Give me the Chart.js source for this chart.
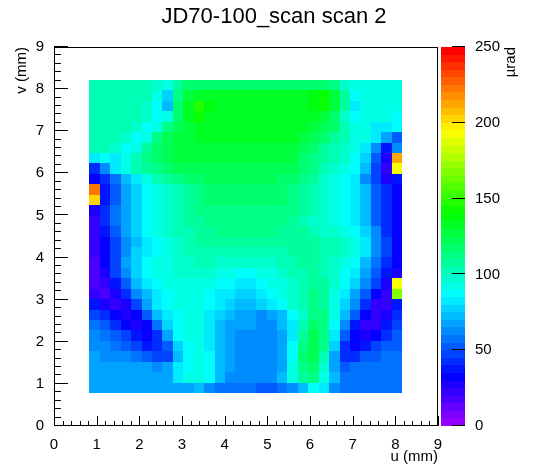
<!DOCTYPE html>
<html lang="en">
<head>
  <meta charset="UTF-8" />
  <title>JD70-100_scan scan 2</title>
  <script src="https://cdn.jsdelivr.net/npm/chart.js"></script>
  <style>
    body {
      margin: 0;
      background: #fff;
    }
    #wrap {
      width: 548px;
      height: 474px;
    }
  </style>
</head>
<body>
<div id="wrap"><canvas id="scan"></canvas></div>

<script>
  // Chart text
  const chartTitle = 'JD70-100_scan scan 2';
  const uTitle = 'u (mm)';
  const vTitle = 'v (mm)';
  const zTitle = 'µrad';

  // Axis ranges and tick steps
  const uAxis = [0, 9];
  const vAxis = [0, 9];
  const zAxis = [0, 250];
  const zStep = 50;
  const zBand = 5;          // 50 colour contours over 0..250
  const minorPerMajor = 5;

  // Scanned area (mm)
  const uRange = [0.83, 8.16];
  const vRange = [0.78, 8.22];

  // Deflection (µrad) per cell, one row per v strip, top (v = 8.2) to bottom (v = 0.8)
  const row01 = [100,100,100,100,100,100,97,90,105,116,118,118,118,118,118,118,118,118,118,118,118,118,118,110,95,92,93,93,93,93];
  const row02 = [104,104,104,104,104,102,92,75,110,128,134,131,130,130,130,130,130,130,130,131,133,136,140,128,108,85,90,92,93,93];
  const row03 = [104,104,104,104,104,98,87,73,115,134,146,138,131,130,130,130,130,130,130,131,133,137,140,128,108,82,90,92,93,93];
  const row04 = [104,104,104,104,103,97,87,90,118,132,140,134,130,130,130,130,130,130,130,130,131,132,128,115,97,87,90,92,90,88];
  const row05 = [104,104,104,104,97,87,92,112,122,128,131,130,130,130,130,130,130,130,130,130,130,129,124,115,102,94,90,84,80,88];
  const row06 = [104,104,104,97,87,94,112,122,127,129,130,130,130,130,130,130,130,130,130,130,129,124,116,108,100,94,90,82,65,50];
  const row07 = [100,102,97,87,92,108,118,124,127,128,128,128,128,128,128,128,128,128,128,127,123,117,108,102,97,90,80,60,35,60];
  const row08 = [80,87,84,90,103,112,118,122,125,126,126,126,126,126,126,126,126,126,126,125,119,113,105,100,95,87,76,52,25,210];
  const row09 = [42,62,80,90,100,108,114,118,122,123,123,123,123,123,123,123,123,123,123,120,115,110,103,98,93,85,72,48,24,190];
  const row10 = [32,40,58,72,84,93,100,107,112,116,118,120,120,120,120,120,120,120,118,116,111,105,98,93,89,80,64,47,28,38];
  const row11 = [220,38,54,66,77,85,91,97,103,108,112,116,118,118,118,118,118,118,116,113,108,102,97,94,89,82,70,54,40,32];
  const row12 = [200,36,54,66,77,85,91,97,103,108,112,115,116,116,116,116,116,116,115,112,106,100,96,94,89,82,70,54,40,32];
  const row13 = [26,40,55,68,78,85,91,96,102,107,110,113,114,114,114,114,114,114,113,110,105,100,96,94,89,82,70,54,40,32];
  const row14 = [24,40,55,68,78,85,91,96,101,105,108,111,112,112,112,112,112,112,111,108,103,99,95,93,89,82,70,54,40,32];
  const row15 = [22,38,53,66,77,85,91,95,100,103,106,109,110,110,110,110,110,110,109,107,105,102,99,96,92,86,76,60,44,33];
  const row16 = [22,34,49,62,73,81,88,93,98,102,105,107,108,108,107,106,106,106,106,106,106,106,104,101,96,90,80,64,46,34];
  const row17 = [20,34,49,63,75,83,89,93,98,101,103,104,104,103,102,102,102,103,104,105,106,106,104,100,95,90,80,64,46,33];
  const row18 = [18,32,49,65,77,85,90,93,96,99,100,100,99,97,96,96,97,99,101,103,105,106,104,99,92,86,74,57,41,31];
  const row19 = [18,28,45,63,77,85,90,93,95,96,96,95,93,91,89,89,91,94,97,100,103,106,104,97,88,80,68,52,35,28];
  const row20 = [18,24,38,54,70,82,89,92,94,94,93,90,88,86,84,84,87,90,94,98,103,108,106,95,85,76,62,45,28,190];
  const row21 = [22,18,27,42,60,73,84,89,91,93,90,87,83,80,77,76,80,85,90,97,104,110,107,93,80,68,52,33,20,165];
  const row22 = [38,28,22,28,48,67,81,88,91,93,90,85,80,75,72,72,76,82,88,96,104,112,108,91,75,60,42,24,20,35];
  const row23 = [48,42,32,26,33,52,72,82,89,92,90,83,75,70,67,66,64,66,72,85,98,114,110,90,70,50,30,20,26,42];
  const row24 = [56,52,44,34,28,33,57,76,86,90,90,82,72,68,65,65,62,63,70,84,100,117,112,88,62,38,22,22,35,47];
  const row25 = [60,56,52,45,36,33,43,66,85,90,90,82,70,66,64,64,60,60,68,83,105,120,112,82,50,30,26,33,42,50];
  const row26 = [62,60,56,52,45,38,41,52,76,88,90,84,70,65,63,63,60,60,67,86,110,124,110,75,40,32,38,45,50,52];
  const row27 = [65,62,62,62,56,50,47,48,71,88,90,85,70,65,62,63,60,60,67,88,115,122,102,66,42,44,50,54,56,56];
  const row28 = [65,65,65,65,65,65,61,66,80,88,90,85,70,65,62,63,60,60,68,90,113,117,96,66,53,55,57,58,58,58];
  const row29 = [68,68,68,68,68,68,68,68,82,90,92,85,70,63,60,62,60,62,72,92,108,110,92,72,58,55,55,55,55,55];
  const row30 = [65,65,65,65,65,65,65,65,65,68,70,60,55,55,55,55,52,52,55,60,72,85,82,62,55,55,55,55,55,55];

  const rows = [row01,row02,row03,row04,row05,row06,row07,row08,row09,row10,
                row11,row12,row13,row14,row15,row16,row17,row18,row19,row20,
                row21,row22,row23,row24,row25,row26,row27,row28,row29,row30];

  const nCols = row01.length;
  const du = (uRange[1] - uRange[0]) / nCols;
  const dv = (vRange[1] - vRange[0]) / rows.length;

  // ROOT "pretty" palette: 50 hues from violet to red
  function paletteColor(k) {
    k = Math.max(0, Math.min(zAxis[1] / zBand - 1, k));
    const hue = 280 - (k + 1) * 5.6;
    return `hsl(${hue}, 100%, 50%)`;
  }

  function colorFor(val) {
    return paletteColor(Math.floor(val / zBand));
  }

  // cell edges, shared by neighbouring cells
  const uEdge = i => uRange[0] + i * du;
  const vEdge = j => vRange[1] - j * dv;

  // one point per cell, at the cell centre
  const cells = [];
  rows.forEach((r, j) => {
    r.forEach((val, i) => {
      cells.push({ x: uEdge(i + 0.5), y: vEdge(j + 0.5), v: val, i, j });
    });
  });

  // Fill each cell through the x/y scales
  const heatmap = {
    id: 'heatmap',
    beforeDatasetsDraw(chart) {
      const { ctx, scales: { x, y } } = chart;
      ctx.save();
      chart.data.datasets[0].data.forEach(c => {
        const x0 = Math.round(x.getPixelForValue(uEdge(c.i)));
        const x1 = Math.round(x.getPixelForValue(uEdge(c.i + 1)));
        const y0 = Math.round(y.getPixelForValue(vEdge(c.j)));
        const y1 = Math.round(y.getPixelForValue(vEdge(c.j + 1)));
        ctx.fillStyle = colorFor(c.v);
        ctx.fillRect(x0, y0, x1 - x0, y1 - y0);
      });
      ctx.restore();
    }
  };

  // Frame, inside ticks, colour bar
  const frameAndPalette = {
    id: 'frameAndPalette',
    afterDraw(chart) {
      const { ctx, chartArea: a, scales: { x, y, z } } = chart;
      ctx.save();
      ctx.strokeStyle = '#000';
      ctx.lineWidth = 1;
      ctx.strokeRect(a.left + 0.5, a.top + 0.5, a.right - a.left - 1, a.bottom - a.top - 1);

      ctx.beginPath();
      for (let k = 0; k <= (x.max - x.min) * minorPerMajor; k++) {
        const px = Math.round(x.getPixelForValue(x.min + k / minorPerMajor)) + 0.5;
        const len = k % minorPerMajor === 0 ? 10 : 5;
        ctx.moveTo(px, a.bottom);
        ctx.lineTo(px, a.bottom - len);
      }
      for (let k = 0; k <= (y.max - y.min) * minorPerMajor; k++) {
        const py = Math.round(y.getPixelForValue(y.min + k / minorPerMajor)) - 0.5;
        const len = k % minorPerMajor === 0 ? 14 : 7;
        ctx.moveTo(a.left, py);
        ctx.lineTo(a.left + len, py);
      }
      ctx.stroke();

      // colour bar
      const barL = a.right + 3;
      const barR = a.right + 27;
      for (let k = 0; k < zAxis[1] / zBand; k++) {
        const yTop = Math.round(z.getPixelForValue((k + 1) * zBand));
        const yBot = Math.round(z.getPixelForValue(k * zBand));
        ctx.fillStyle = paletteColor(k);
        ctx.fillRect(barL, yTop, barR - barL, yBot - yTop);
      }
      ctx.beginPath();
      z.ticks.forEach(t => {
        const py = Math.round(z.getPixelForValue(t.value)) - 0.5;
        ctx.moveTo(barR - 13, py);
        ctx.lineTo(barR, py);
      });
      ctx.stroke();

      // z title, reads upward, ends at the top of the bar
      ctx.translate(a.right + 73, a.top);
      ctx.rotate(-Math.PI / 2);
      ctx.font = "15px 'Liberation Sans', Arial, sans-serif";
      ctx.fillStyle = '#000';
      ctx.textAlign = 'right';
      ctx.textBaseline = 'middle';
      ctx.fillText(zTitle, 0, 0);
      ctx.restore();
    }
  };

  Chart.defaults.font.family = "'Liberation Sans', Arial, sans-serif";
  Chart.defaults.font.size = 15;
  Chart.defaults.color = '#000';

  const axisFont = { size: 15, lineHeight: 1 };

  new Chart(document.getElementById('scan'), {
    type: 'scatter',
    data: {
      datasets: [{
        data: cells,
        pointRadius: 0,
        pointHoverRadius: 0
      }]
    },
    options: {
      responsive: true,
      maintainAspectRatio: false,
      animation: false,
      events: [],
      layout: { padding: 0 },
      plugins: {
        legend: { display: false },
        tooltip: { enabled: false },
        title: {
          display: true,
          text: chartTitle,
          color: '#000',
          font: { size: 22, weight: 'normal', lineHeight: 1.2 },
          padding: { top: 4, bottom: 16.6 }
        }
      },
      scales: {
        x: {
          type: 'linear',
          min: uAxis[0],
          max: uAxis[1],
          grid: { display: false },
          border: { display: false },
          ticks: { stepSize: 1, padding: 3, maxRotation: 0, font: axisFont },
          title: { display: true, text: uTitle, align: 'end', font: axisFont, padding: { top: 0, bottom: 10 } },
          afterFit(s) { s.height = 48; }
        },
        y: {
          type: 'linear',
          position: 'left',
          min: vAxis[0],
          max: vAxis[1],
          grid: { display: false },
          border: { display: false },
          ticks: { stepSize: 1, padding: 2, font: axisFont },
          title: { display: true, text: vTitle, align: 'end', font: axisFont, padding: { top: 14, bottom: 0 } },
          afterFit(s) { s.width = 54; }
        },
        z: {
          axis: 'y',
          type: 'linear',
          position: 'right',
          min: zAxis[0],
          max: zAxis[1],
          grid: { display: false, drawOnChartArea: false },
          border: { display: false },
          ticks: { stepSize: zStep, padding: 29, font: axisFont },
          afterFit(s) { s.width = 110; }
        }
      }
    },
    plugins: [heatmap, frameAndPalette]
  });
</script>
</body>
</html>
